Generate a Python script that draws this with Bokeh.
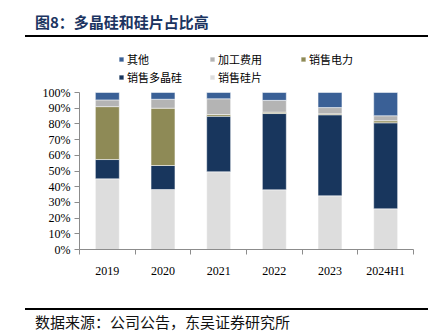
from bokeh.plotting import figure
from bokeh.models import ColumnDataSource, Range1d, FixedTicker, Legend, LegendItem, Div
from bokeh.layouts import column
from bokeh.embed import file_html
from bokeh.resources import INLINE

# ---- data ----
categories = ["2019", "2020", "2021", "2022", "2023", "2024H1"]
wafer = [45.0, 38.2, 49.5, 38.0, 34.2, 25.9]       # 销售硅片
poly = [12.3, 15.3, 35.4, 48.6, 51.6, 54.8]        # 销售多晶硅
power = [33.7, 36.5, 1.1, 0.9, 0.6, 1.3]           # 销售电力
processing = [4.3, 5.7, 10.0, 7.5, 4.0, 3.2]       # 加工费用
other = [4.7, 4.3, 4.0, 5.0, 9.6, 14.8]            # 其他
series_names = ["销售硅片", "销售多晶硅", "销售电力", "加工费用", "其他"]
series_colors = ["#dddddd", "#18365d", "#8e8a56", "#b4b4b4", "#3a6096"]
y_ticks = list(range(0, 101, 10))
title_text = "图8：多晶硅和硅片占比高"
source_text = "数据来源：公司公告，东吴证券研究所"

W = 435
SERIF = "Liberation Serif"
CJK = "Noto Sans CJK SC"

# ---- header ----
hdr_h = 48
hdr = Div(width=W, height=hdr_h, margin=0, text=(
    f'<div style="position:relative;width:{W}px;height:{hdr_h}px;margin:0;padding:0;">'
    f'<div style="position:absolute;left:35px;top:12px;font-family:\'{CJK}\';font-weight:bold;'
    f'font-size:15px;line-height:20px;color:#1b3461;white-space:nowrap;">{title_text}</div>'
    f'<div style="position:absolute;left:25px;top:35px;width:403px;height:2px;background:#000;"></div>'
    f'</div>'))

# ---- main chart ----
xs = [i + 0.5 for i in range(len(categories))]
data = {"x": xs}
for name, vals in zip(series_names, [wafer, poly, power, processing, other]):
    data[name] = vals
src = ColumnDataSource(data)

main_h = 252
top_border = 1          # frame starts well above the 100% line to host the legend
bottom_border = 51
frame_h = main_h - top_border - bottom_border
plot_px = 157           # pixel height of the 0-100% span
y_top = 100 * frame_h / plot_px

p = figure(width=W, height=main_h, x_range=Range1d(0, len(categories)), y_range=Range1d(0, y_top),
           output_backend="svg", toolbar_location=None, margin=0,
           min_border_left=79, min_border_right=22, min_border_top=top_border,
           min_border_bottom=bottom_border)
p.grid.visible = False
p.outline_line_color = None

renderers = p.vbar_stack(series_names, x="x", width=0.43, source=src,
                         fill_color=series_colors, line_color="white", line_width=0.5)

# y axis
p.yaxis.bounds = (0, 100)
p.yaxis.ticker = FixedTicker(ticks=y_ticks)
p.yaxis.major_label_overrides = {t: f"{t}%" for t in y_ticks}
p.yaxis.minor_tick_line_color = None
p.yaxis.major_tick_out = 5
p.yaxis.major_tick_in = 0
p.yaxis.major_label_standoff = 4

# x axis: labels at centres, tick marks at category boundaries
p.xaxis.ticker = FixedTicker(ticks=xs, minor_ticks=list(range(len(categories) + 1)))
p.xaxis.major_label_overrides = {x: c for x, c in zip(xs, categories)}
p.xaxis.major_tick_line_color = None
p.xaxis.major_tick_out = 0
p.xaxis.major_tick_in = 0
p.xaxis.minor_tick_out = 5
p.xaxis.minor_tick_in = 0
p.xaxis.major_label_standoff = 9

for ax in (p.xaxis, p.yaxis):
    ax.axis_line_color = "#8c8c8c"
    ax.major_label_text_font = SERIF
    ax.major_label_text_font_size = "12px"
    ax.major_label_text_color = "#000000"
p.yaxis.major_tick_line_color = "#8c8c8c"
p.xaxis.minor_tick_line_color = "#8c8c8c"

items = [LegendItem(label=n, renderers=[r]) for n, r in zip(series_names, renderers)][::-1]
legend = Legend(items=items, location=(39, 164), orientation="horizontal", ncols=3,
                glyph_width=6, glyph_height=6, label_width=80, label_height=13,
                label_standoff=3, spacing=2, padding=0, margin=0,
                border_line_color=None, background_fill_alpha=0,
                label_text_font=CJK, label_text_font_size="11px", label_text_color="#000000")
p.add_layout(legend)

# ---- footer ----
ftr_h = 32
ftr = Div(width=W, height=ftr_h, margin=0, text=(
    f'<div style="position:relative;width:{W}px;height:{ftr_h}px;margin:0;padding:0;">'
    f'<div style="position:absolute;left:25px;top:8px;width:403px;height:2px;background:#000;"></div>'
    f'<div style="position:absolute;left:35px;top:12px;font-family:\'{CJK}\';'
    f'font-size:15px;line-height:20px;color:#111;white-space:nowrap;">{source_text}</div>'
    f'</div>'))

layout = column(hdr, p, ftr, spacing=0, margin=0)
open("out.html", "w").write(file_html(layout, INLINE))
